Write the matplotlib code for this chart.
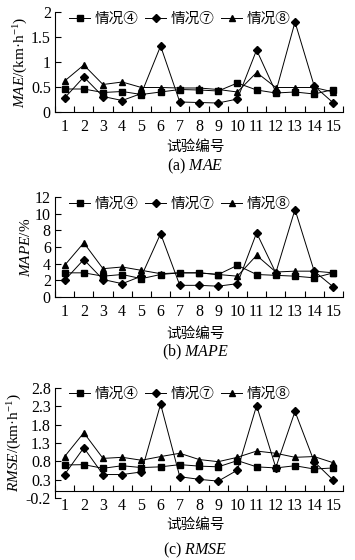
import numpy as np
import matplotlib.pyplot as plt

plt.rcParams['font.family'] = ['Liberation Serif', 'Noto Sans CJK SC']
plt.rcParams['mathtext.fontset'] = 'custom'
plt.rcParams['mathtext.rm'] = 'Liberation Serif'
plt.rcParams['mathtext.it'] = 'Liberation Serif:italic'

trials = np.arange(1, 16)
series_names = ['情况④', '情况⑦', '情况⑧']

mae_4 = [0.46, 0.46, 0.39, 0.41, 0.35, 0.40, 0.45, 0.44, 0.42, 0.58, 0.44, 0.38, 0.40, 0.36, 0.45]
mae_7 = [0.28, 0.70, 0.31, 0.23, 0.37, 1.32, 0.20, 0.19, 0.18, 0.26, 1.24, 0.40, 1.80, 0.52, 0.18]
mae_8 = [0.62, 0.94, 0.55, 0.60, 0.49, 0.49, 0.48, 0.48, 0.45, 0.40, 0.79, 0.49, 0.49, 0.49, 0.40]

mape_4 = [2.9, 2.9, 2.5, 2.7, 2.2, 2.7, 2.9, 2.9, 2.7, 3.8, 2.7, 2.6, 2.5, 2.3, 2.9]
mape_7 = [2.0, 4.5, 2.1, 1.6, 2.5, 7.6, 1.4, 1.4, 1.3, 1.6, 7.7, 2.9, 10.5, 3.1, 1.2]
mape_8 = [3.8, 6.5, 3.4, 3.6, 3.2, 2.8, 2.9, 2.9, 2.7, 2.5, 5.0, 3.0, 3.1, 3.1, 2.9]

rmse_4 = [0.70, 0.71, 0.61, 0.68, 0.63, 0.65, 0.71, 0.67, 0.65, 0.82, 0.65, 0.62, 0.68, 0.59, 0.62]
rmse_7 = [0.44, 1.17, 0.44, 0.44, 0.51, 2.36, 0.38, 0.31, 0.26, 0.56, 2.32, 0.63, 2.16, 0.79, 0.28]
rmse_8 = [0.93, 1.58, 0.88, 0.91, 0.83, 0.93, 1.02, 0.85, 0.79, 0.91, 1.08, 1.02, 0.91, 0.93, 0.76]

panels = [
    ([mae_4, mae_7, mae_8], r'$\mathit{MAE}$/(km·h$^{-1}$)', r'(a) $\mathit{MAE}$',
     (0, 2), np.arange(0, 2.01, 0.5), ['0', '0.5', '1', '1.5', '2']),
    ([mape_4, mape_7, mape_8], r'$\mathit{MAPE}$/%', r'(b) $\mathit{MAPE}$',
     (0, 12), np.arange(0, 12.1, 2), ['0', '2', '4', '6', '8', '10', '12']),
    ([rmse_4, rmse_7, rmse_8], r'$\mathit{RMSE}$/(km·h$^{-1}$)', r'(c) $\mathit{RMSE}$',
     (-0.2, 2.8), np.arange(-0.2, 2.81, 0.5), ['-0.2', '0.3', '0.8', '1.3', '1.8', '2.3', '2.8']),
]
markers = ['s', 'D', '^']
msizes = [4.5, 4.5, 5]

W, H = 355, 560
fig = plt.figure(figsize=(W / 100, H / 100), dpi=100)
# axes boxes in pixel coords: left, top, right, bottom
boxes = [(55, 12, 343, 112), (55, 197, 343, 297), (55, 388, 343, 498)]
xlab_y = [147, 334, 525]
cap_y = [166, 352, 550]

for (data, ylab, cap, ylim, yt, ytl), (l, t, r, b), xy, cy in zip(panels, boxes, xlab_y, cap_y):
    ax = fig.add_axes([l / W, 1 - b / H, (r - l) / W, (b - t) / H])
    for vals, name, m, ms in zip(data, series_names, markers, msizes):
        ax.plot(trials, vals, color='black', lw=0.7, marker=m, ms=ms, label=name)
    ax.set_xlim(0.5, 15.5)
    ax.set_ylim(*ylim)
    ax.spines['top'].set_visible(False)
    ax.spines['right'].set_visible(False)
    ax.spines['bottom'].set_position(('data', 0))
    for s in ['left', 'bottom']:
        ax.spines[s].set_linewidth(0.8)
    ax.set_xticks(trials)
    ax.set_xticklabels([str(i) for i in trials], fontsize=11.5)
    ax.set_xticks(np.arange(0.5, 15.6, 1), minor=True)
    ax.tick_params(axis='x', which='major', length=0, pad=5)
    ax.tick_params(axis='x', which='minor', direction='in', length=4, width=0.8)
    ax.set_yticks(yt)
    ax.set_yticklabels(ytl, fontsize=11.5)
    ax.tick_params(axis='y', direction='in', length=4, width=0.8, pad=3)
    ax.set_ylabel(ylab, fontsize=11, labelpad=1)
    cx = (l + r) / 2 / W - 0.01
    fig.text(cx, 1 - xy / H, '试验编号', ha='center', va='center', fontsize=10.5,
             family=['Noto Sans CJK SC'])
    fig.text(cx, 1 - cy / H, cap, ha='center', va='center', fontsize=11.5)
    ax.legend(loc='upper left', ncol=3, frameon=False,
              prop={'family': ['Noto Sans CJK SC'], 'size': 10.5},
              handlelength=1.4, handletextpad=0.3, columnspacing=0.5,
              borderaxespad=0.0, bbox_to_anchor=(0.03, 1.06))

fig.savefig('out.png', dpi=100)
